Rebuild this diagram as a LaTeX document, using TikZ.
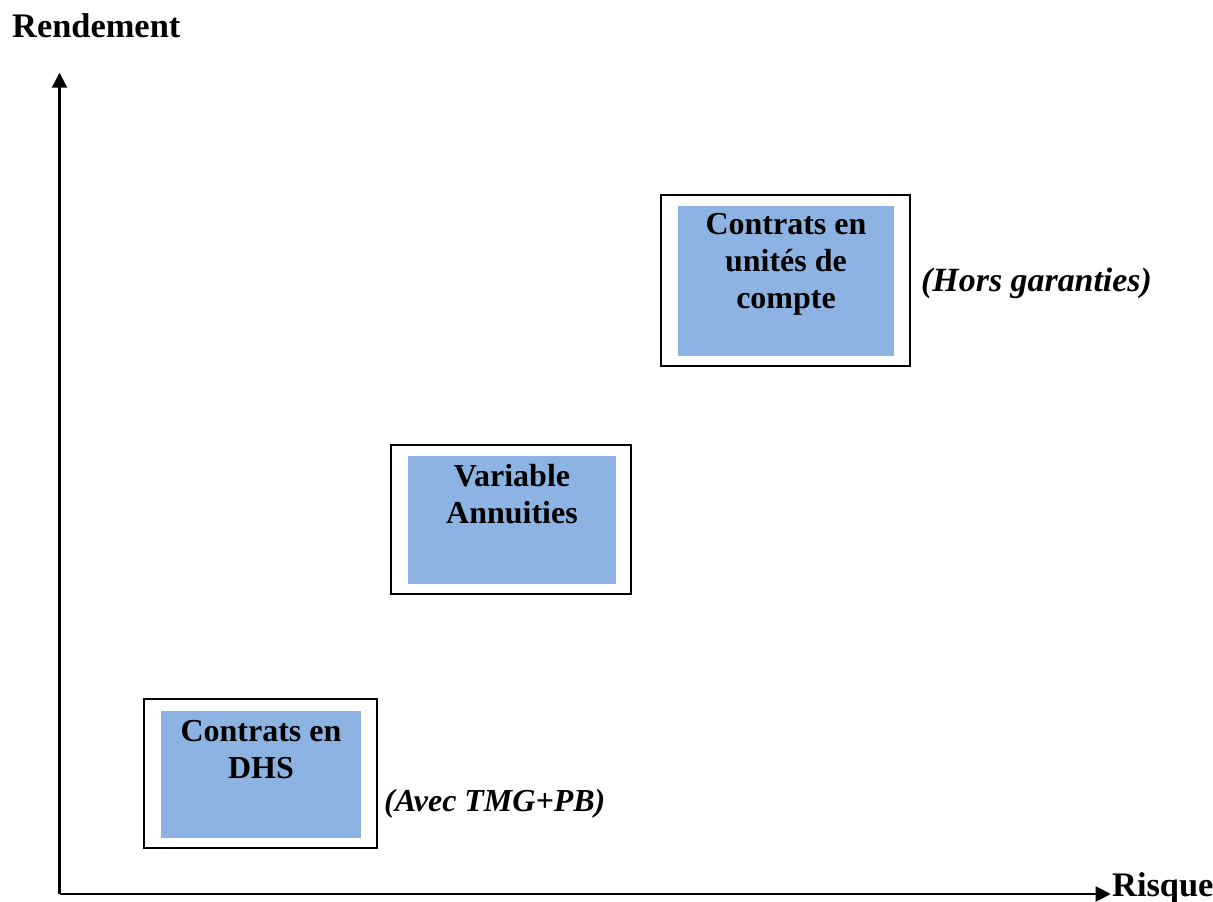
\documentclass[tikz,border=0pt]{standalone}
\usepackage{fontspec}
\setmainfont{Liberation Serif}
\usepackage{xcolor}
\usetikzlibrary{arrows.meta}
\definecolor{boxblue}{HTML}{8DB3E2}

\begin{document}
\begin{tikzpicture}[
    x=1pt, y=-1pt,
    every node/.style={inner sep=0pt},
    axis/.style={line width=2.2pt, -{Triangle[length=15pt,width=15pt]}},
    outer/.style={draw, line width=2.2pt, fill=white},
    inner/.style={fill=boxblue},
    boxtext/.style={anchor=base, align=center, font=\fontsize{32}{37}\selectfont\bfseries},
    axislabel/.style={anchor=base west, font=\fontsize{34.4}{40}\selectfont\bfseries},
    note/.style={anchor=base west, font=\bfseries\itshape}
]
\useasboundingbox (0,0) rectangle (1213,902);

% Axes
\coordinate (origin) at (59.5,894);
\coordinate (ytop) at (59.5,72.7);
\coordinate (xend) at (1110.7,894);
\draw[axis] (origin) -- (ytop);
\draw[axis] (origin) -- (xend);
\node[axislabel] (rendement) at (12,37.3) {Rendement};
\node[axislabel] (risque) at (1112,896.7) {Risque};

% Contrats en DHS
\node[outer, minimum width=233pt, minimum height=149pt] (dhsout) at (260.8,773.8) {};
\node[inner, minimum width=200pt, minimum height=126.7pt] (dhs) at (261,774.4) {};
\node[boxtext] (dhstext) at (261,778.3) {Contrats en\\DHS};
\node[note, font=\fontsize{32}{37}\selectfont\bfseries\itshape] (avec) at (384,811.7) {(Avec TMG+PB)};

% Variable Annuities
\node[outer, minimum width=240.3pt, minimum height=149pt] (vaout) at (510.9,519.5) {};
\node[inner, minimum width=208.3pt, minimum height=128pt] (va) at (511.9,520) {};
\node[boxtext] (vatext) at (512,523) {Variable\\Annuities};

% Contrats en unites de compte
\node[outer, minimum width=249.3pt, minimum height=170.7pt] (ucout) at (785.4,280.4) {};
\node[inner, minimum width=216pt, minimum height=149.7pt] (uc) at (786,280.9) {};
\node[boxtext] (uctext) at (786,308) {Contrats en\\unités de\\compte};
\node[note, font=\fontsize{33.9}{40}\selectfont\bfseries\itshape] (hors) at (921,291.7) {(Hors garanties)};
\end{tikzpicture}
\end{document}
